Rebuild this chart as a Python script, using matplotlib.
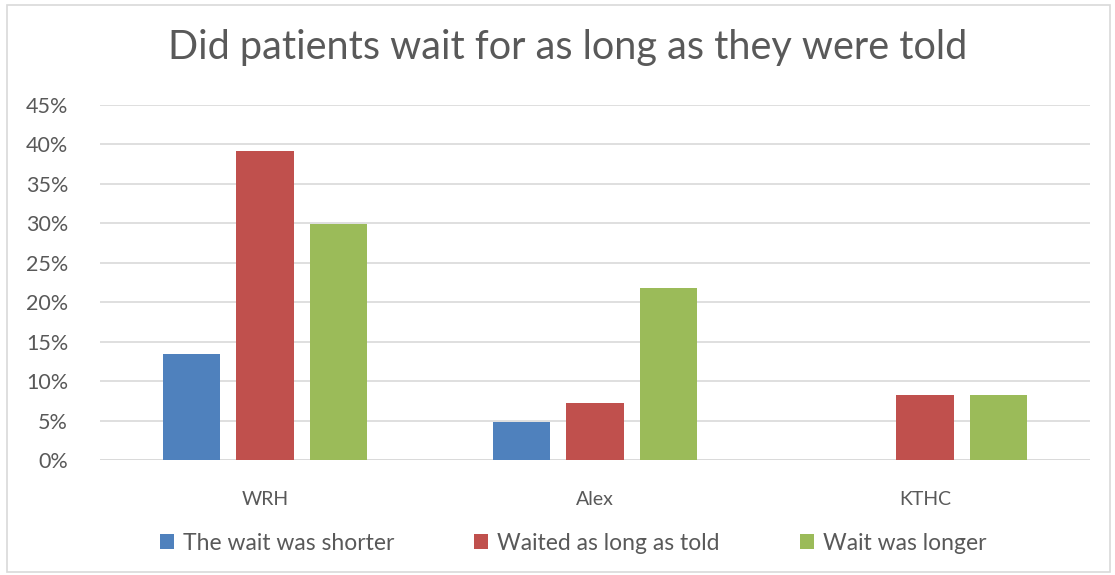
import numpy as np
import matplotlib
matplotlib.use('Agg')
import matplotlib.pyplot as plt
from matplotlib.patches import Rectangle

# data
sites = ['WRH', 'Alex', 'KTHC']
series = ['The wait was shorter', 'Waited as long as told', 'Wait was longer']
shorter = [13.4, 4.8, 0.0]
as_told = [39.2, 7.2, 8.2]
longer = [29.9, 21.8, 8.2]
colors = ['#4F81BD', '#C0504D', '#9BBB59']

plt.rcParams['font.family'] = ['Lato', 'DejaVu Sans']

fig = plt.figure(figsize=(11.15, 5.75), dpi=100)
ax = fig.add_axes([100 / 1115, 1 - 460 / 575, 990 / 1115, 355 / 575])

x = np.arange(len(sites))
width = 0.173
step = 0.224
for i, (vals, name) in enumerate(zip([shorter, as_told, longer], series)):
    ax.bar(x + (i - 1) * step, vals, width, color=colors[i], label=name, zorder=3)

ax.set_xlim(-0.5, 2.5)
ax.set_ylim(0, 45)
ax.set_yticks(np.arange(0, 46, 5))
ax.set_yticklabels(['%d%%' % v for v in range(0, 46, 5)], fontsize=15.5, color='#595959')
ax.set_xticks(x)
ax.set_xticklabels(sites, fontsize=14, color='#595959')
ax.tick_params(axis='both', length=0)
ax.tick_params(axis='y', pad=23)
ax.tick_params(axis='x', pad=22)
ax.grid(axis='y', color='#D9D9D9', linewidth=1.2, zorder=0)
for s in ax.spines.values():
    s.set_visible(False)
ax.axhline(0, color='#D9D9D9', linewidth=1.2, zorder=2)

fig.text(0.509, 1 - 48 / 575, 'Did patients wait for as long as they were told',
         ha='center', va='center', fontsize=28.5, color='#595959')

leg = fig.legend(loc='center', bbox_to_anchor=(0.514, 1 - 543 / 575), ncol=3,
                 frameon=False, fontsize=16.5, handlelength=0.6, handleheight=0.6,
                 handletextpad=0.4, columnspacing=3.5)
for t in leg.get_texts():
    t.set_color('#595959')

# outer chart border
fig.patches.append(Rectangle((7 / 1115, 3 / 575), 1103 / 1115, 567 / 575,
                             transform=fig.transFigure, fill=False,
                             edgecolor='#D9D9D9', linewidth=1.2))

fig.savefig('out.png', dpi=100, facecolor='white')
